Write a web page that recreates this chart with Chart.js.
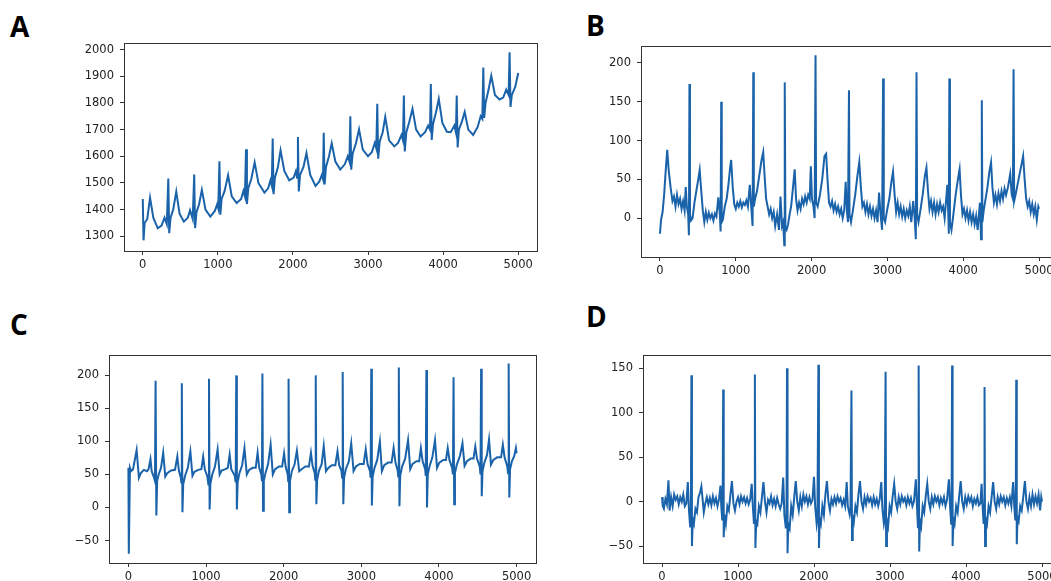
<!DOCTYPE html>
<html>
<head>
<meta charset="utf-8">
<script src="https://cdn.jsdelivr.net/npm/chart.js@4.4.0/dist/chart.umd.min.js"></script>
<style>
    html, body { margin: 0; padding: 0; background: #fff; overflow: hidden; }
    body { width: 1051px; height: 581px; position: relative; }
    canvas { position: absolute; }
    .tag {
        position: absolute;
        font-family: "Open Sans", sans-serif;
        font-weight: 700;
        font-size: 28px;
        line-height: 28px;
        color: #000;
    }
</style>
</head>
<body>
<div class="tag" style="left:10px;top:12px">A</div>
<div class="tag" style="left:586px;top:11px">B</div>
<div class="tag" style="left:10px;top:310px">C</div>
<div class="tag" style="left:586px;top:302px">D</div>

<canvas id="chartA" width="483" height="251" style="left:64px;top:30px"></canvas>
<canvas id="chartB" width="487" height="254" style="left:581px;top:33px"></canvas>
<canvas id="chartC" width="497" height="251" style="left:49px;top:342px"></canvas>
<canvas id="chartD" width="488" height="251" style="left:583px;top:342px"></canvas>

<script>
// sample index / amplitude pairs
const traceA = [
    [0,1440],[10,1285],[25,1350],[60,1365],[97,1445],[140,1370],[200,1330],[250,1340],[290,1370],[320,1345],
    [340,1517],[352,1312],[370,1370],[405,1400],[446,1468],[490,1385],[547,1355],[600,1370],[630,1398],[665,1365],
    [685,1532],[697,1331],[715,1390],[750,1420],[787,1474],[835,1400],[900,1374],[960,1395],[990,1420],[1005,1405],
    [1021,1581],[1033,1381],[1050,1440],[1090,1470],[1136,1529],[1185,1450],[1250,1425],[1310,1440],[1340,1470],[1360,1450],
    [1375,1626],[1387,1421],[1405,1480],[1445,1515],[1490,1577],[1540,1500],[1620,1464],[1670,1480],[1700,1510],[1718,1490],
    [1730,1667],[1742,1458],[1760,1520],[1800,1560],[1835,1622],[1885,1545],[1950,1510],[2010,1520],[2040,1545],[2055,1520],
    [2066,1672],[2078,1468],[2095,1530],[2140,1560],[2180,1612],[2230,1530],[2300,1489],[2350,1505],[2385,1530],[2400,1515],
    [2410,1688],[2422,1495],[2440,1560],[2480,1600],[2516,1649],[2565,1580],[2630,1550],[2690,1570],[2730,1600],[2752,1580],
    [2764,1750],[2776,1550],[2795,1610],[2840,1650],[2880,1701],[2930,1625],[3000,1600],[3050,1615],[3090,1650],[3110,1630],
    [3123,1797],[3135,1591],[3155,1655],[3195,1690],[3229,1748],[3280,1660],[3350,1637],[3400,1650],[3445,1680],[3465,1660],
    [3477,1828],[3489,1618],[3510,1690],[3550,1730],[3592,1778],[3640,1700],[3700,1674],[3760,1690],[3800,1715],[3825,1700],
    [3836,1871],[3848,1661],[3865,1720],[3905,1765],[3942,1815],[3990,1725],[4050,1692],[4100,1690],[4150,1715],[4170,1690],
    [4181,1828],[4193,1633],[4210,1700],[4250,1730],[4287,1766],[4335,1700],[4400,1680],[4460,1710],[4500,1750],[4522,1740],
    [4535,1933],[4547,1744],[4565,1800],[4605,1850],[4641,1902],[4690,1830],[4750,1813],[4800,1820],[4840,1850],[4872,1830],
    [4885,1990],[4897,1785],[4915,1830],[4960,1860],[5000,1912]
];

const traceB = [
    [0,-20],[15,-2],[35,8],[55,30],[75,60],[96,88],[115,62],[140,40],[165,22],[185,28],[205,15],[225,30],[245,18],
    [265,25],[285,12],[305,22],[325,10],[340,40],[355,15],[372,5],[382,-22],[389,173],[396,5],[410,-3],[430,0],
    [455,20],[480,35],[505,50],[524,62],[545,35],[565,10],[585,-5],[605,8],[625,-2],[645,7],[665,0],[685,5],
    [705,-3],[725,6],[745,2],[770,27],[790,5],[800,-17],[808,150],[815,-5],[830,-2],[855,15],[880,25],[905,45],
    [925,65],[939,75],[960,40],[980,18],[1000,12],[1020,20],[1040,15],[1060,22],[1080,14],[1100,20],[1120,17],
    [1140,23],[1160,15],[1185,43],[1200,20],[1222,-10],[1231,188],[1238,15],[1255,25],[1280,35],[1310,55],[1340,75],
    [1362,85],[1380,55],[1400,25],[1420,15],[1440,5],[1460,12],[1480,0],[1500,8],[1520,-10],[1545,5],[1570,-15],
    [1590,28],[1610,-10],[1625,-5],[1640,-35],[1646,175],[1655,-12],[1670,-15],[1690,-8],[1710,5],[1730,15],
    [1755,40],[1777,63],[1795,25],[1815,10],[1835,20],[1855,12],[1875,25],[1895,18],[1915,28],[1935,20],[1955,30],
    [1975,25],[1990,67],[2005,25],[2025,15],[2040,0],[2052,210],[2060,20],[2080,15],[2110,30],[2140,50],[2170,80],
    [2192,83],[2210,50],[2230,20],[2250,15],[2270,22],[2290,10],[2310,18],[2330,8],[2350,15],[2370,5],[2390,12],
    [2410,0],[2430,10],[2450,47],[2465,10],[2480,-5],[2493,165],[2500,5],[2520,-5],[2545,10],[2575,30],[2605,55],
    [2629,72],[2650,40],[2670,15],[2690,20],[2710,8],[2730,18],[2750,5],[2770,15],[2790,3],[2810,12],[2830,0],
    [2850,10],[2870,-5],[2890,33],[2910,5],[2930,-15],[2943,180],[2952,0],[2970,-5],[2995,10],[3025,25],[3050,45],
    [3074,60],[3095,30],[3115,8],[3135,20],[3155,5],[3175,15],[3195,2],[3215,12],[3235,0],[3255,10],[3275,3],
    [3295,15],[3315,-5],[3340,22],[3360,0],[3375,-27],[3384,188],[3392,5],[3410,-5],[3435,10],[3465,30],[3495,55],
    [3515,65],[3535,35],[3555,12],[3575,22],[3595,8],[3615,20],[3635,5],[3655,18],[3675,8],[3695,20],[3715,10],
    [3735,15],[3755,0],[3790,43],[3805,0],[3810,-20],[3817,180],[3825,-5],[3845,-15],[3870,5],[3900,30],[3930,50],
    [3952,63],[3970,30],[3990,5],[4010,12],[4030,0],[4050,10],[4070,-3],[4090,8],[4110,-5],[4130,5],[4150,-8],
    [4170,3],[4190,-15],[4220,20],[4235,-27],[4245,152],[4253,-5],[4270,10],[4295,25],[4320,40],[4345,60],[4367,72],
    [4385,40],[4405,20],[4425,30],[4445,18],[4465,32],[4485,22],[4505,35],[4525,25],[4545,38],[4565,30],[4590,40],
    [4620,57],[4640,30],[4655,25],[4664,192],[4672,22],[4690,30],[4710,40],[4740,55],[4770,70],[4790,80],[4810,50],
    [4830,25],[4850,15],[4870,22],[4890,8],[4910,18],[4930,5],[4950,15],[4970,-2],[4990,15],[5000,12]
];

const traceC = [
    [0,60],[5,-70],[20,60],[35,55],[60,58],[106,87],[135,45],[160,52],[200,57],[240,55],[260,58],[284,73],[300,55],
    [330,45],[342,40],[350,192],[360,-12],[370,40],[390,50],[420,60],[448,83],[475,47],[500,52],[550,56],[600,57],
    [630,77],[650,56],[675,45],[682,38],[688,188],[696,-7],[706,35],[730,48],[765,60],[798,85],[825,48],[850,54],
    [900,57],[940,58],[963,77],[985,57],[1015,48],[1030,35],[1038,195],[1046,-3],[1056,36],[1080,50],[1115,62],
    [1149,88],[1175,50],[1200,56],[1250,58],[1280,60],[1304,80],[1325,58],[1370,48],[1382,38],[1389,200],[1397,-3],
    [1407,38],[1430,52],[1465,64],[1495,90],[1525,50],[1555,57],[1600,60],[1640,60],[1664,83],[1685,60],[1712,50],
    [1720,40],[1726,203],[1734,-5],[1744,40],[1765,52],[1800,66],[1832,95],[1860,50],[1890,58],[1940,62],[1980,62],
    [2005,82],[2025,62],[2052,50],[2058,40],[2063,195],[2071,-7],[2081,40],[2105,55],[2140,65],[2170,86],[2200,55],
    [2230,58],[2280,62],[2325,62],[2351,83],[2372,63],[2400,52],[2407,42],[2413,200],[2421,5],[2431,42],[2455,56],
    [2490,66],[2516,93],[2545,55],[2575,60],[2620,64],[2665,64],[2693,85],[2715,64],[2745,55],[2753,45],[2760,205],
    [2768,5],[2778,45],[2800,58],[2840,70],[2870,97],[2900,55],[2930,62],[2980,66],[3030,66],[3057,88],[3080,66],
    [3112,55],[3120,45],[3128,210],[3136,3],[3146,47],[3170,60],[3205,72],[3239,100],[3265,55],[3295,64],[3345,68],
    [3390,68],[3416,90],[3440,68],[3468,56],[3476,47],[3483,212],[3491,2],[3501,48],[3525,62],[3565,74],[3602,102],
    [3630,58],[3660,66],[3710,70],[3745,70],[3767,90],[3790,70],[3822,58],[3830,48],[3838,208],[3846,0],[3856,50],
    [3880,63],[3915,76],[3949,102],[3975,60],[4005,68],[4055,72],[4090,72],[4113,90],[4135,72],[4170,60],[4180,50],
    [4188,197],[4196,5],[4206,52],[4230,65],[4270,78],[4303,97],[4330,63],[4360,70],[4410,74],[4445,74],[4468,92],
    [4490,74],[4525,62],[4535,50],[4543,210],[4551,17],[4561,55],[4585,68],[4620,80],[4645,103],[4670,65],[4700,72],
    [4750,76],[4800,76],[4823,95],[4845,76],[4880,62],[4890,52],[4898,218],[4906,15],[4916,58],[4940,70],[4970,78],
    [4991,90],[5000,82]
];

const traceD = [
    [0,5],[10,-5],[25,-8],[45,3],[65,-3],[85,24],[100,-10],[120,5],[140,-5],[160,8],[180,2],[200,6],[220,-3],
    [240,5],[260,0],[280,8],[300,-5],[320,-2],[340,22],[355,-10],[370,-28],[380,-20],[387,142],[394,-50],[405,-20],
    [420,-25],[440,-8],[460,-12],[480,5],[500,10],[518,17],[535,2],[550,-12],[570,-2],[590,5],[610,-3],[630,4],
    [650,-4],[670,6],[690,-2],[710,4],[730,-5],[750,3],[770,18],[780,-5],[792,-20],[798,-15],[805,126],[812,-40],
    [822,-15],[840,-25],[860,-5],[880,-10],[900,8],[920,23],[940,-2],[960,-10],[980,0],[1000,5],[1020,-3],[1040,6],
    [1060,0],[1080,5],[1100,-2],[1120,4],[1140,-3],[1160,2],[1180,20],[1195,-5],[1210,-25],[1215,-20],[1222,143],
    [1229,-52],[1240,-22],[1255,-25],[1275,-5],[1295,-12],[1315,5],[1335,22],[1355,0],[1375,-12],[1395,2],[1415,-2],
    [1435,6],[1455,-4],[1475,3],[1495,-5],[1515,4],[1535,-3],[1555,-8],[1575,-2],[1595,27],[1610,-15],[1630,-30],
    [1638,-20],[1645,150],[1652,-58],[1662,-25],[1680,-30],[1700,-5],[1720,-15],[1740,5],[1760,23],[1780,0],
    [1800,-10],[1820,5],[1840,-5],[1860,8],[1880,0],[1900,6],[1920,-3],[1940,5],[1960,-2],[1980,2],[2000,28],
    [2015,-5],[2035,-25],[2045,-18],[2058,154],[2065,-52],[2075,-20],[2090,-25],[2110,-5],[2130,-15],[2150,8],
    [2170,23],[2190,0],[2210,-10],[2230,3],[2250,-3],[2270,5],[2290,-2],[2310,6],[2330,0],[2350,4],[2370,-4],
    [2390,2],[2410,-5],[2430,22],[2445,-5],[2470,-15],[2480,-10],[2493,125],[2500,-43],[2510,-15],[2525,-22],
    [2545,-5],[2565,-12],[2585,8],[2605,23],[2625,0],[2645,-8],[2665,5],[2685,-3],[2705,6],[2725,0],[2745,4],
    [2765,-4],[2785,5],[2805,-3],[2825,3],[2845,-5],[2865,3],[2885,22],[2900,-8],[2920,-25],[2930,-20],[2942,146],
    [2949,-50],[2960,-22],[2975,-28],[2995,-5],[3015,-12],[3035,6],[3055,20],[3075,0],[3095,-8],[3115,5],[3135,-3],
    [3155,6],[3175,0],[3195,4],[3215,-4],[3235,5],[3255,-2],[3275,4],[3295,-5],[3315,0],[3340,25],[3355,-5],
    [3368,-30],[3372,-20],[3377,153],[3384,-56],[3395,-22],[3410,-28],[3430,-5],[3450,-12],[3470,6],[3490,20],
    [3510,0],[3530,-8],[3550,5],[3570,-3],[3590,6],[3610,0],[3630,5],[3650,-4],[3670,4],[3690,-2],[3710,5],
    [3730,-5],[3750,2],[3775,25],[3790,-5],[3805,-25],[3810,-18],[3817,153],[3824,-50],[3835,-20],[3850,-25],
    [3870,-5],[3890,-12],[3910,6],[3930,23],[3950,0],[3970,-8],[3990,5],[4010,-3],[4030,6],[4050,0],[4070,5],
    [4090,-5],[4110,3],[4130,-2],[4150,5],[4170,-4],[4190,-2],[4205,20],[4220,-8],[4232,-25],[4238,-18],[4244,129],
    [4251,-50],[4262,-20],[4277,-25],[4297,-5],[4317,-12],[4337,5],[4357,22],[4377,0],[4397,-8],[4417,5],[4437,-3],
    [4457,6],[4477,0],[4497,5],[4517,-4],[4537,4],[4557,-2],[4577,5],[4597,-5],[4620,22],[4635,-5],[4648,-20],
    [4654,-15],[4661,137],[4668,-48],[4678,-18],[4693,-22],[4713,-5],[4733,-10],[4753,5],[4775,23],[4795,0],
    [4815,-8],[4835,5],[4855,-5],[4875,8],[4895,-3],[4915,6],[4935,-2],[4955,8],[4975,-10],[4990,5],[5000,0]
];

// tick labels
const xTicks = [0, 1000, 2000, 3000, 4000, 5000];
const yTicksA = [1300, 1400, 1500, 1600, 1700, 1800, 1900, 2000];
const yTicksB = [0, 50, 100, 150, 200];
const yTicksC = [-50, 0, 50, 100, 150, 200];
const yTicksD = [-50, 0, 50, 100, 150];

const lineColor = '#1a63aa';
const axisColor = '#333333';
const tickFont = { family: 'DejaVu Sans', size: 11.5 };

// matplotlib style box around the plotting area
const framePlugin = {
    id: 'frame',
    afterDatasetsDraw(chart) {
        const a = chart.chartArea;
        const c = chart.ctx;
        c.save();
        c.strokeStyle = axisColor;
        c.lineWidth = 1;
        c.strokeRect(Math.round(a.left) + 0.5, Math.round(a.top) + 0.5,
                     Math.round(a.right - a.left), Math.round(a.bottom - a.top));
        c.restore();
    }
};

const fmt = v => String(v).replace('-', '\u2212');

function createTraceChart(canvasId, trace, yMin, yMax, yTicks) {
    const ctx = document.getElementById(canvasId).getContext('2d');

    new Chart(ctx, {
        type: 'line',
        data: {
            datasets: [{
                data: trace.map(p => ({ x: p[0], y: p[1] })),
                borderColor: lineColor,
                borderWidth: 2,
                pointRadius: 0,
                tension: 0,
                fill: false
            }]
        },
        options: {
            responsive: false,
            animation: false,
            layout: { padding: { top: 10, right: 10, left: 0, bottom: 0 } },
            plugins: {
                legend: { display: false },
                tooltip: { enabled: false }
            },
            scales: {
                x: {
                    type: 'linear',
                    min: -250,
                    max: 5250,
                    afterBuildTicks: s => { s.ticks = xTicks.map(v => ({ value: v })); },
                    afterFit: s => { s.height = 30; },
                    border: { display: false },
                    grid: { drawOnChartArea: false, drawTicks: true, tickLength: 4, color: axisColor },
                    ticks: { font: tickFont, color: '#222', padding: 3, maxRotation: 0, autoSkip: false, callback: fmt }
                },
                y: {
                    min: yMin,
                    max: yMax,
                    afterBuildTicks: s => { s.ticks = yTicks.map(v => ({ value: v })); },
                    afterFit: s => { s.width = 60; },
                    border: { display: false },
                    grid: { drawOnChartArea: false, drawTicks: true, tickLength: 4, color: axisColor },
                    ticks: { font: tickFont, color: '#222', padding: 6, autoSkip: false, callback: fmt }
                }
            }
        },
        plugins: [framePlugin]
    });
}

createTraceChart('chartA', traceA, 1245, 2025, yTicksA);
createTraceChart('chartB', traceB, -50, 222, yTicksB);
createTraceChart('chartC', traceC, -84, 231, yTicksC);
createTraceChart('chartD', traceD, -69, 165, yTicksD);
</script>
</body>
</html>
